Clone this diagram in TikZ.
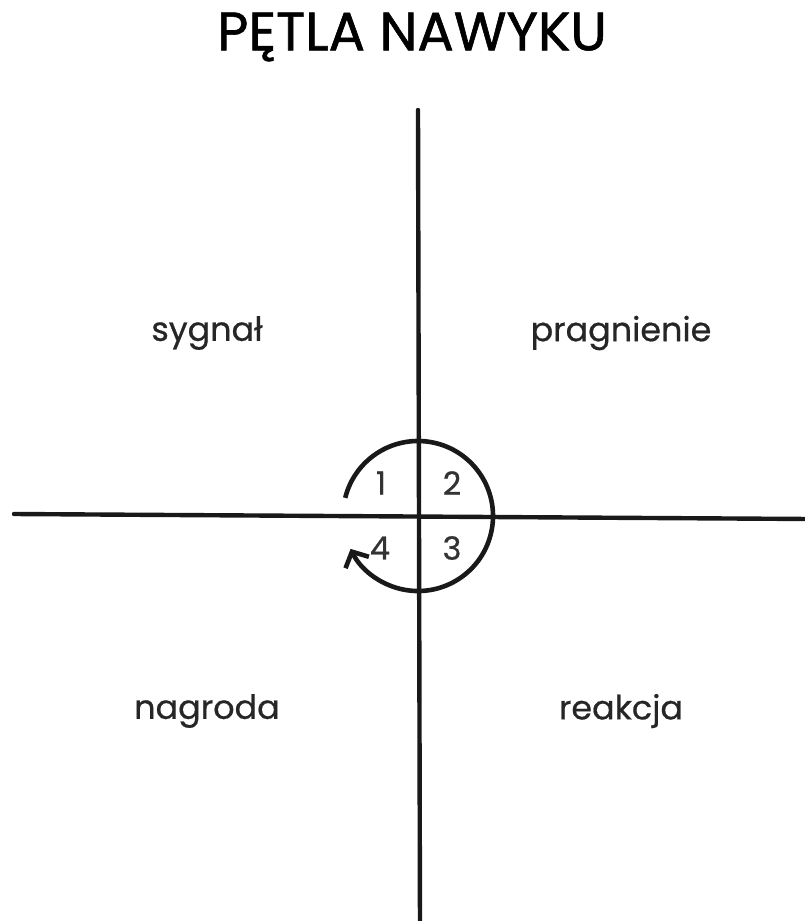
\documentclass[tikz,border=0pt]{standalone}
\usepackage{fontspec}
\setmainfont{Poppins}
\newfontfamily\titlefont[FakeBold=1.1]{Poppins}
\newfontfamily\lblfont[FakeBold=0.6]{Poppins}
\usetikzlibrary{arrows.meta}
\begin{document}
\begin{tikzpicture}[x=1pt,y=1pt,
  axis/.style={line width=4.4pt, line cap=round, black!90},
  loop/.style={line width=4.6pt, black!90},
  lbl/.style={font=\lblfont\fontsize{33.4}{38}\selectfont, text=black!85},
  num/.style={font=\lblfont\fontsize{32}{38}\selectfont, text=black!80}]
\useasboundingbox (0,0) rectangle (804,-921);
\node (title) at (412,-37) {\titlefont\fontsize{54}{64}\selectfont PĘTLA NAWYKU};
\coordinate (top) at (418,-110);
\coordinate (bot) at (420,-930);
\coordinate (left) at (14,-514);
\coordinate (right) at (810,-519);
\coordinate (c) at (418,-516);
\draw[axis] (top) -- (bot);
\draw[axis] (left) -- (right);
\draw[loop, -{Straight Barb[length=12pt,width=26pt]}] (c) ++(166:75) arc[start angle=166, end angle=-154, radius=75];
\node[num] (n1) at (381,-483) {1};
\node[num] (n2) at (452,-483) {2};
\node[num] (n4) at (380,-548) {4};
\node[num] (n3) at (452,-548) {3};
\node[lbl] (s) at (207,-333) {sygnał};
\node[lbl] (p) at (621,-333) {pragnienie};
\node[lbl] (n) at (207,-711) {nagroda};
\node[lbl] (r) at (621,-711) {reakcja};
\end{tikzpicture}
\end{document}
